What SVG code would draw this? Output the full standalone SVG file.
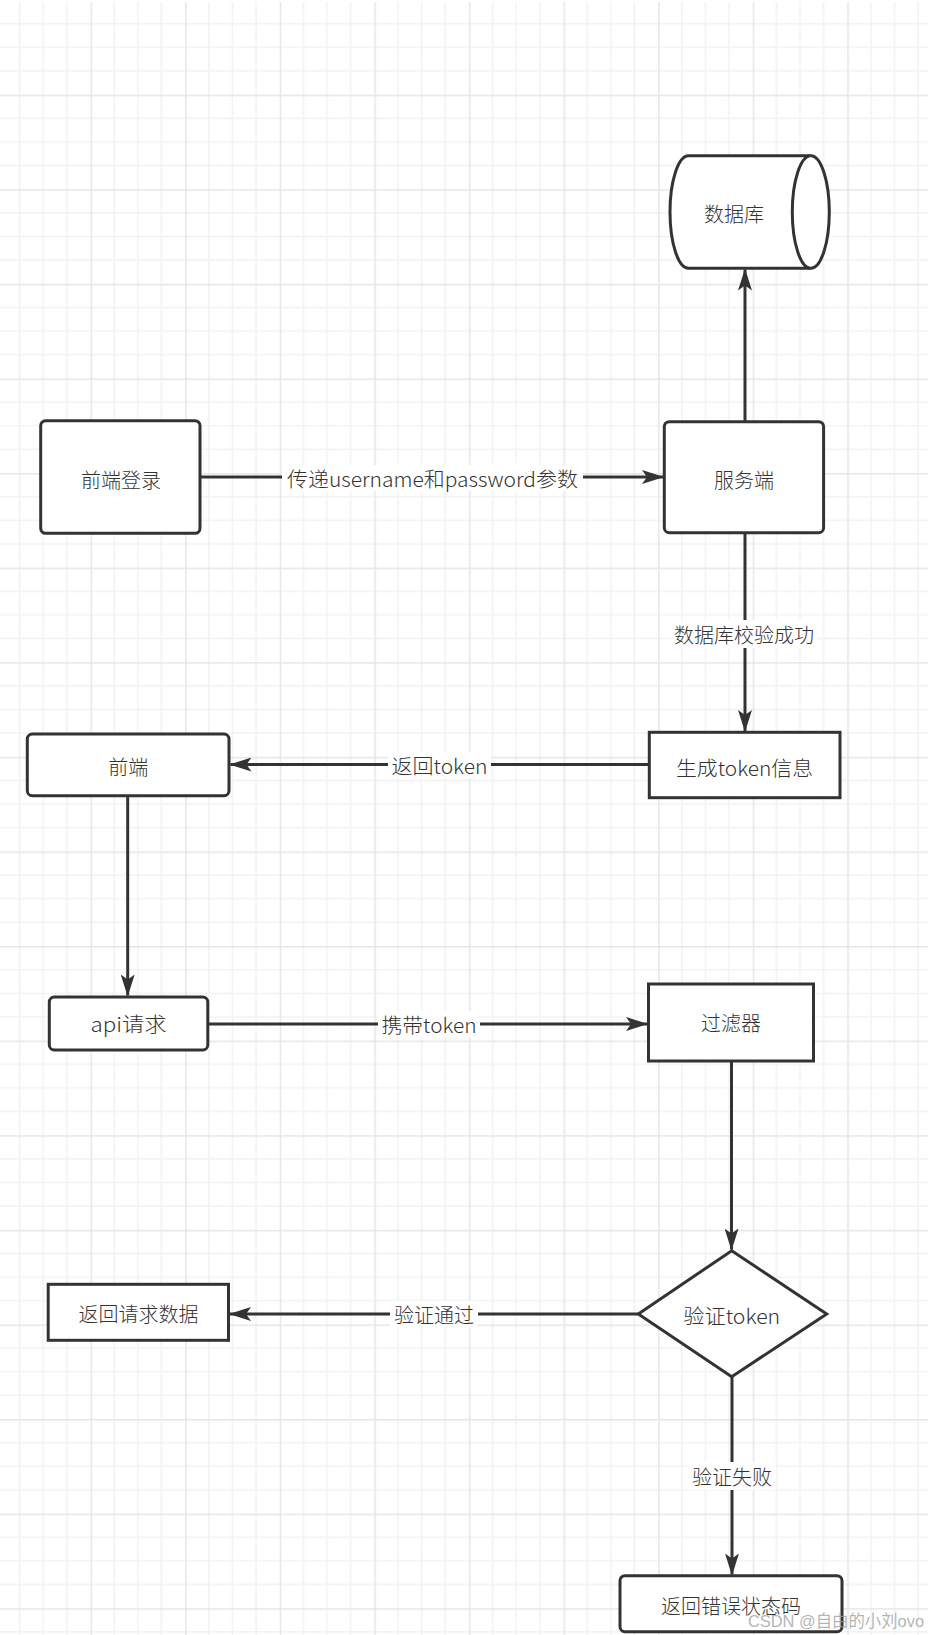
<svg xmlns="http://www.w3.org/2000/svg" width="928" height="1635" viewBox="0 0 928 1635">
<style>
.node{fill:#ffffff;stroke:#333333;stroke-width:3}
.edge{fill:none;stroke:#333333;stroke-width:3}
.t{font-family:"Noto Sans CJK SC","Noto Sans",sans-serif;font-size:20px;font-weight:300;fill:#333333;text-anchor:middle;dominant-baseline:central}
.lb{fill:#ffffff}
.wm{font-family:"Liberation Sans","Noto Sans CJK SC",sans-serif;font-size:17px;fill:#9a9a9a;fill-opacity:0.75;text-anchor:end;dominant-baseline:central}
</style>
<defs>
<pattern id="grid" patternUnits="userSpaceOnUse" x="-4.1" y="0" width="94.6" height="94.6">
<path d="M23.65 0V94.6M47.3 0V94.6M70.95 0V94.6M0 23.65H94.6M0 47.3H94.6M0 70.95H94.6" stroke="#f2f2f2" stroke-width="1.5" fill="none"/>
<path d="M0.75 0V94.6M0 0.75H94.6" stroke="#e6e6e6" stroke-width="1.5" fill="none"/>
</pattern>
<marker id="arr" viewBox="0 0 22 14" refX="21" refY="7" markerWidth="22" markerHeight="14" markerUnits="userSpaceOnUse" orient="auto">
<path d="M0 0L22 7L0 14L5 7Z" fill="#333333"/>
</marker>
</defs>
<rect x="0" y="0" width="928" height="1635" fill="#ffffff"/>
<rect x="0" y="2" width="928" height="1633" fill="url(#grid)"/>

<g id="connectors">
<path class="edge" d="M200 477H663" marker-end="url(#arr)"/>
<path class="edge" d="M745 421.7V269.5" marker-end="url(#arr)"/>
<path class="edge" d="M745 532.7V731" marker-end="url(#arr)"/>
<path class="edge" d="M649.3 764.5H230.5" marker-end="url(#arr)"/>
<path class="edge" d="M127.7 795.7V995.5" marker-end="url(#arr)"/>
<path class="edge" d="M207.8 1024H647" marker-end="url(#arr)"/>
<path class="edge" d="M731.5 1061V1249.5" marker-end="url(#arr)"/>
<path class="edge" d="M638.3 1314H230" marker-end="url(#arr)"/>
<path class="edge" d="M732 1376.7V1574.5" marker-end="url(#arr)"/>
<g id="edge-labels">
<rect class="lb" x="282" y="465" width="301" height="26"/>
<text class="t" x="432.5" y="478.5" textLength="291" lengthAdjust="spacingAndGlyphs">传递username和password参数</text>
<rect class="lb" x="671" y="620" width="146" height="28"/>
<text class="t" x="744" y="634">数据库校验成功</text>
<rect class="lb" x="388" y="752" width="103" height="26"/>
<text class="t" x="439.5" y="765" textLength="96" lengthAdjust="spacingAndGlyphs">返回token</text>
<rect class="lb" x="378" y="1011" width="102" height="26"/>
<text class="t" x="429" y="1024" textLength="95" lengthAdjust="spacingAndGlyphs">携带token</text>
<rect class="lb" x="390" y="1301" width="88" height="26"/>
<text class="t" x="434" y="1314">验证通过</text>
<rect class="lb" x="688" y="1462" width="88" height="28"/>
<text class="t" x="732" y="1476">验证失败</text>
</g>
</g>

<g id="db">
<path class="node" d="M688.5 155.7H810.8A18.5 56.3 0 0 1 810.8 268.3H688.5A18.5 56.3 0 0 1 688.5 155.7Z"/>
<path class="node" d="M810.8 155.7A18.5 56.3 0 0 0 810.8 268.3" fill="none"/>
<text class="t" x="734" y="213">数据库</text>
</g>
<g id="login">
<rect class="node" x="40.7" y="420.7" width="159.3" height="112.6" rx="5"/>
<text class="t" x="121" y="479">前端登录</text>
</g>
<g id="server">
<rect class="node" x="664.3" y="421.7" width="159.3" height="111" rx="5"/>
<text class="t" x="744" y="479">服务端</text>
</g>
<g id="gentoken">
<rect class="node" x="649.3" y="732.3" width="190.7" height="65.4"/>
<text class="t" x="744.5" y="767" textLength="137" lengthAdjust="spacingAndGlyphs">生成token信息</text>
</g>
<g id="frontend">
<rect class="node" x="27.3" y="734" width="201.7" height="61.7" rx="5"/>
<text class="t" x="128.3" y="766">前端</text>
</g>
<g id="api">
<rect class="node" x="49.3" y="997" width="158.5" height="53" rx="5"/>
<text class="t" x="128.5" y="1023" textLength="76" lengthAdjust="spacingAndGlyphs">api请求</text>
</g>
<g id="filter">
<rect class="node" x="648.5" y="984" width="165" height="77"/>
<text class="t" x="731" y="1022">过滤器</text>
</g>
<g id="verify">
<path class="node" d="M731.7 1250.7L826.7 1314L731.7 1376.7L638.3 1314Z"/>
<text class="t" x="731.7" y="1315" textLength="97" lengthAdjust="spacingAndGlyphs">验证token</text>
</g>
<g id="okdata">
<rect class="node" x="48.2" y="1284.3" width="180.3" height="56"/>
<text class="t" x="138.4" y="1313">返回请求数据</text>
</g>
<g id="errcode">
<rect class="node" x="620" y="1575.7" width="222" height="56" rx="5"/>
<text class="t" x="731" y="1605">返回错误状态码</text>
</g>
<text class="wm" x="924" y="1621" textLength="176" lengthAdjust="spacingAndGlyphs">CSDN @自由的小刘ovo</text>
</svg>
